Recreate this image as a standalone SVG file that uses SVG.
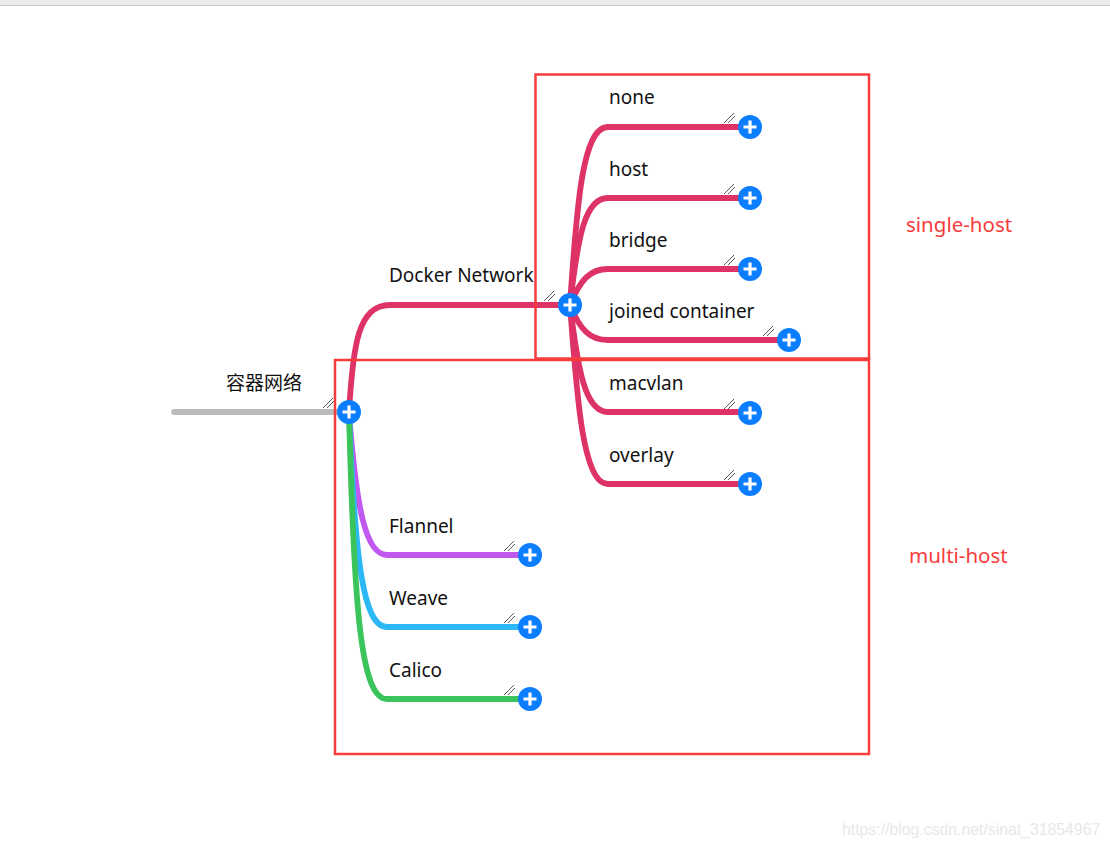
<svg xmlns="http://www.w3.org/2000/svg" width="1110" height="848" viewBox="0 0 1110 848">
<style>
.lbl{font-family:"Noto Sans","Noto Sans CJK SC",sans-serif;font-size:19px;fill:#111}
.cjk{font-family:"Noto Sans CJK SC","Noto Sans",sans-serif;font-size:19px;fill:#111}
.red{font-family:"Noto Sans","Liberation Sans",sans-serif;font-size:20.5px;fill:#f83c3c}
.br{fill:none;stroke-width:5.8;stroke-linecap:round}
.pk{stroke:#dd3366}
.box{fill:none;stroke:#f83c3c;stroke-width:2.5}
.mk{stroke:#444;stroke-width:0.9;fill:none}
</style>
<defs>
<g id="plus">
<circle r="12" fill="#0b7dff"/>
<path d="M-6.5,0H6.5M0,-6.5V6.5" stroke="#fff" stroke-width="3.2" stroke-linecap="butt"/>
<path class="mk" d="M-26,-4L-16,-14M-22,-4L-15,-11"/>
</g>
</defs>
<rect x="0" y="0" width="1110" height="5" fill="#ececec"/>
<line x1="0" y1="5.5" x2="1110" y2="5.5" stroke="#c6c6c6" stroke-width="1"/>
<g id="connectors">
<line class="br" x1="174" y1="412" x2="340" y2="412" stroke="#bbbbbb" stroke-width="5"/>
<path class="br pk" d="M349,412 C353,345 358,305 390,305 H562"/>
<path class="br" stroke="#c158f0" d="M349,412 C356,505 365,555 387,555 H520"/>
<path class="br" stroke="#2bb8f5" d="M349,412 C355,560 363,627 387,627 H520"/>
<path class="br" stroke="#3cc45c" d="M349,412 C354,610 361,699 387,699 H520"/>
<path class="br pk" d="M570,305 C577,200 583,127 608,127 H740"/>
<path class="br pk" d="M570,305 C578,235 585,198 608,198 H740"/>
<path class="br pk" d="M570,305 C580,280 590,269 608,269 H740"/>
<path class="br pk" d="M570,305 C580,330 590,340 608,340 H779"/>
<path class="br pk" d="M570,305 C578,370 585,412 608,412 H740"/>
<path class="br pk" d="M570,305 C577,400 583,484 608,484 H740"/>
</g>
<g id="box-single"><rect class="box" x="535.5" y="74.5" width="333.5" height="284"/></g>
<g id="box-multi"><rect class="box" x="335" y="360" width="534" height="394"/></g>
<g id="n-root"><text class="cjk" x="226" y="390">容器网络</text><use href="#plus" x="349" y="412"/></g>
<g id="n-docker"><text class="lbl" x="389" y="282">Docker Network</text><use href="#plus" x="570" y="305"/></g>
<g id="n-none"><text class="lbl" x="609" y="104">none</text><use href="#plus" x="750" y="127"/></g>
<g id="n-host"><text class="lbl" x="609" y="176">host</text><use href="#plus" x="750" y="198"/></g>
<g id="n-bridge"><text class="lbl" x="609" y="247">bridge</text><use href="#plus" x="750" y="269"/></g>
<g id="n-joined"><text class="lbl" x="609" y="318">joined container</text><use href="#plus" x="789" y="340"/></g>
<g id="n-macvlan"><text class="lbl" x="609" y="390">macvlan</text><use href="#plus" x="750" y="413"/></g>
<g id="n-overlay"><text class="lbl" x="609" y="462">overlay</text><use href="#plus" x="750" y="484"/></g>
<g id="n-flannel"><text class="lbl" x="389" y="533">Flannel</text><use href="#plus" x="530" y="555"/></g>
<g id="n-weave"><text class="lbl" x="389" y="605">Weave</text><use href="#plus" x="530" y="627"/></g>
<g id="n-calico"><text class="lbl" x="389" y="677">Calico</text><use href="#plus" x="530" y="699"/></g>
<text class="red" x="906" y="232">single-host</text>
<text class="red" x="909" y="563">multi-host</text>
<text x="842" y="835" font-family="Liberation Sans,sans-serif" font-size="15.8" fill="#e8e8e8">https://blog.csdn.net/sinat_31854967</text>
</svg>
